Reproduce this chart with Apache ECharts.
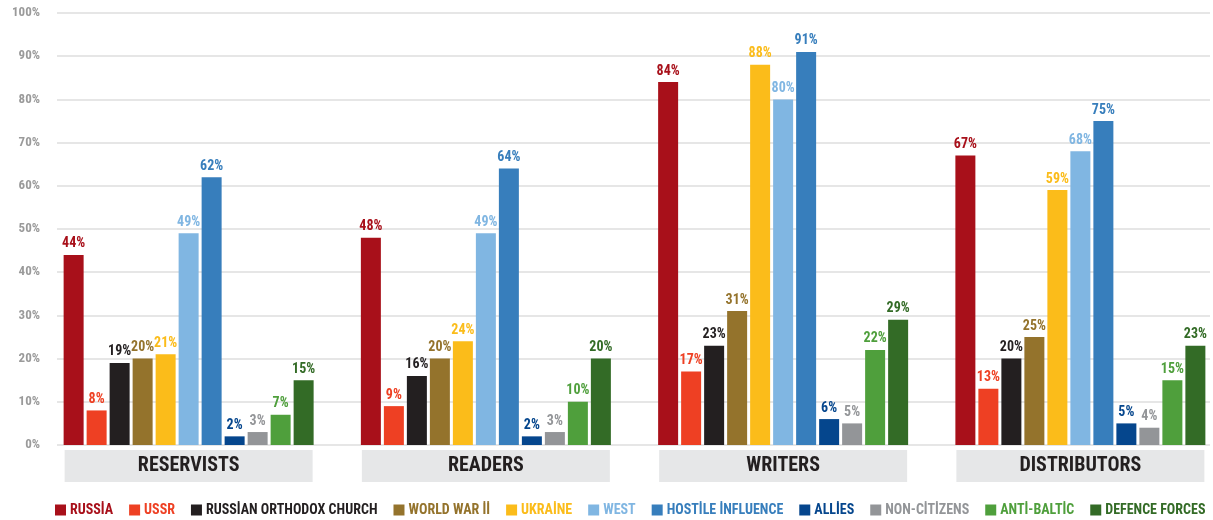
<!DOCTYPE html>
<html>
<head>
<meta charset="utf-8">
<script src="https://cdn.jsdelivr.net/npm/echarts@6/dist/echarts.min.js"></script>
<style>html,body{margin:0;padding:0;background:#fff}#c{width:1213px;height:520px}</style>
</head>
<body>
<div id="c"></div>
<script>
const categories = ['RESERVISTS', 'READERS', 'WRITERS', 'DISTRIBUTORS'];
const seriesNames = ['RUSSİA', 'USSR', 'RUSSİAN ORTHODOX CHURCH', 'WORLD WAR İİ', 'UKRAİNE', 'WEST', 'HOSTİLE İNFLUENCE', 'ALLİES', 'NON-CİTİZENS', 'ANTİ-BALTİC', 'DEFENCE FORCES'];
const russia = [44, 48, 84, 67];
const ussr = [8, 9, 17, 13];
const orthodox = [19, 16, 23, 20];
const ww2 = [20, 20, 31, 25];
const ukraine = [21, 24, 88, 59];
const west = [49, 49, 80, 68];
const hostile = [62, 64, 91, 75];
const allies = [2, 2, 6, 5];
const nonCitizens = [3, 3, 5, 4];
const antiBaltic = [7, 10, 22, 15];
const defence = [15, 20, 29, 23];
const yTicks = [0, 10, 20, 30, 40, 50, 60, 70, 80, 90, 100];

const seriesData = [russia, ussr, orthodox, ww2, ukraine, west, hostile, allies, nonCitizens, antiBaltic, defence];
const colors = ['#a8101a', '#ee4023', '#231f20', '#94732c', '#fbbc1a', '#80b6e2', '#377ebc', '#05468d', '#939598', '#4f9f3c', '#336b26'];
const FONT = "'Roboto Condensed', 'Liberation Sans Narrow', 'DejaVu Sans Condensed', Roboto, sans-serif";

const chart = echarts.init(document.getElementById('c'), null, {renderer: 'canvas'});
chart.setOption({
  animation: false,
  textStyle: {fontFamily: FONT},
  grid: [
    {left: 57, right: 3, top: 13, bottom: 75, outerBoundsMode: 'none', containLabel: false},
    {left: 40, width: 1189, top: 13, bottom: 75, outerBoundsMode: 'none', containLabel: false}
  ],
  xAxis: [
    {gridIndex: 0, type: 'category', data: categories, show: false},
    {
      gridIndex: 1, type: 'category', data: categories,
      axisLine: {show: false}, axisTick: {show: false},
      axisLabel: {
        margin: 5,
        formatter: v => '{b|' + v + '}',
        rich: {
          b: {
            backgroundColor: '#e6e7e8', width: 248, height: 32, lineHeight: 32,
            align: 'center', fontSize: 20, fontWeight: 'bold', color: '#231f20', fontFamily: FONT
          }
        }
      }
    }
  ],
  yAxis: [
    {
      gridIndex: 0, type: 'value', min: yTicks[0], max: yTicks[yTicks.length - 1], interval: 10,
      axisLine: {show: false}, axisTick: {show: false},
      axisLabel: {formatter: '{value}%', color: '#9a9a9a', fontSize: 13, fontWeight: 'bold', margin: 17, fontFamily: FONT},
      splitLine: {lineStyle: {color: '#dedede', width: 1.5}}
    },
    {
      gridIndex: 1, type: 'value', min: yTicks[0], max: yTicks[yTicks.length - 1], interval: 10,
      show: false, splitLine: {show: false}
    }
  ],
  legend: {
    left: 55, width: 1200, bottom: 3, padding: 0, icon: 'rect', itemWidth: 11, itemHeight: 11, itemGap: 16,
    data: seriesNames.map((n, i) => ({name: n, textStyle: {color: colors[i]}})),
    textStyle: {fontSize: 14, fontWeight: 'bold', fontFamily: FONT, padding: [0, 0, 0, -1]}
  },
  series: seriesNames.map((n, i) => ({
    name: n, type: 'bar', xAxisIndex: 1, yAxisIndex: 1,
    data: seriesData[i], barWidth: 20, barGap: '15%',
    itemStyle: {color: colors[i]},
    label: {
      show: true, position: 'top', distance: 4, formatter: '{c}%',
      color: colors[i], fontSize: 14, fontWeight: 'bold', fontFamily: FONT
    }
  }))
});
</script>
</body>
</html>
